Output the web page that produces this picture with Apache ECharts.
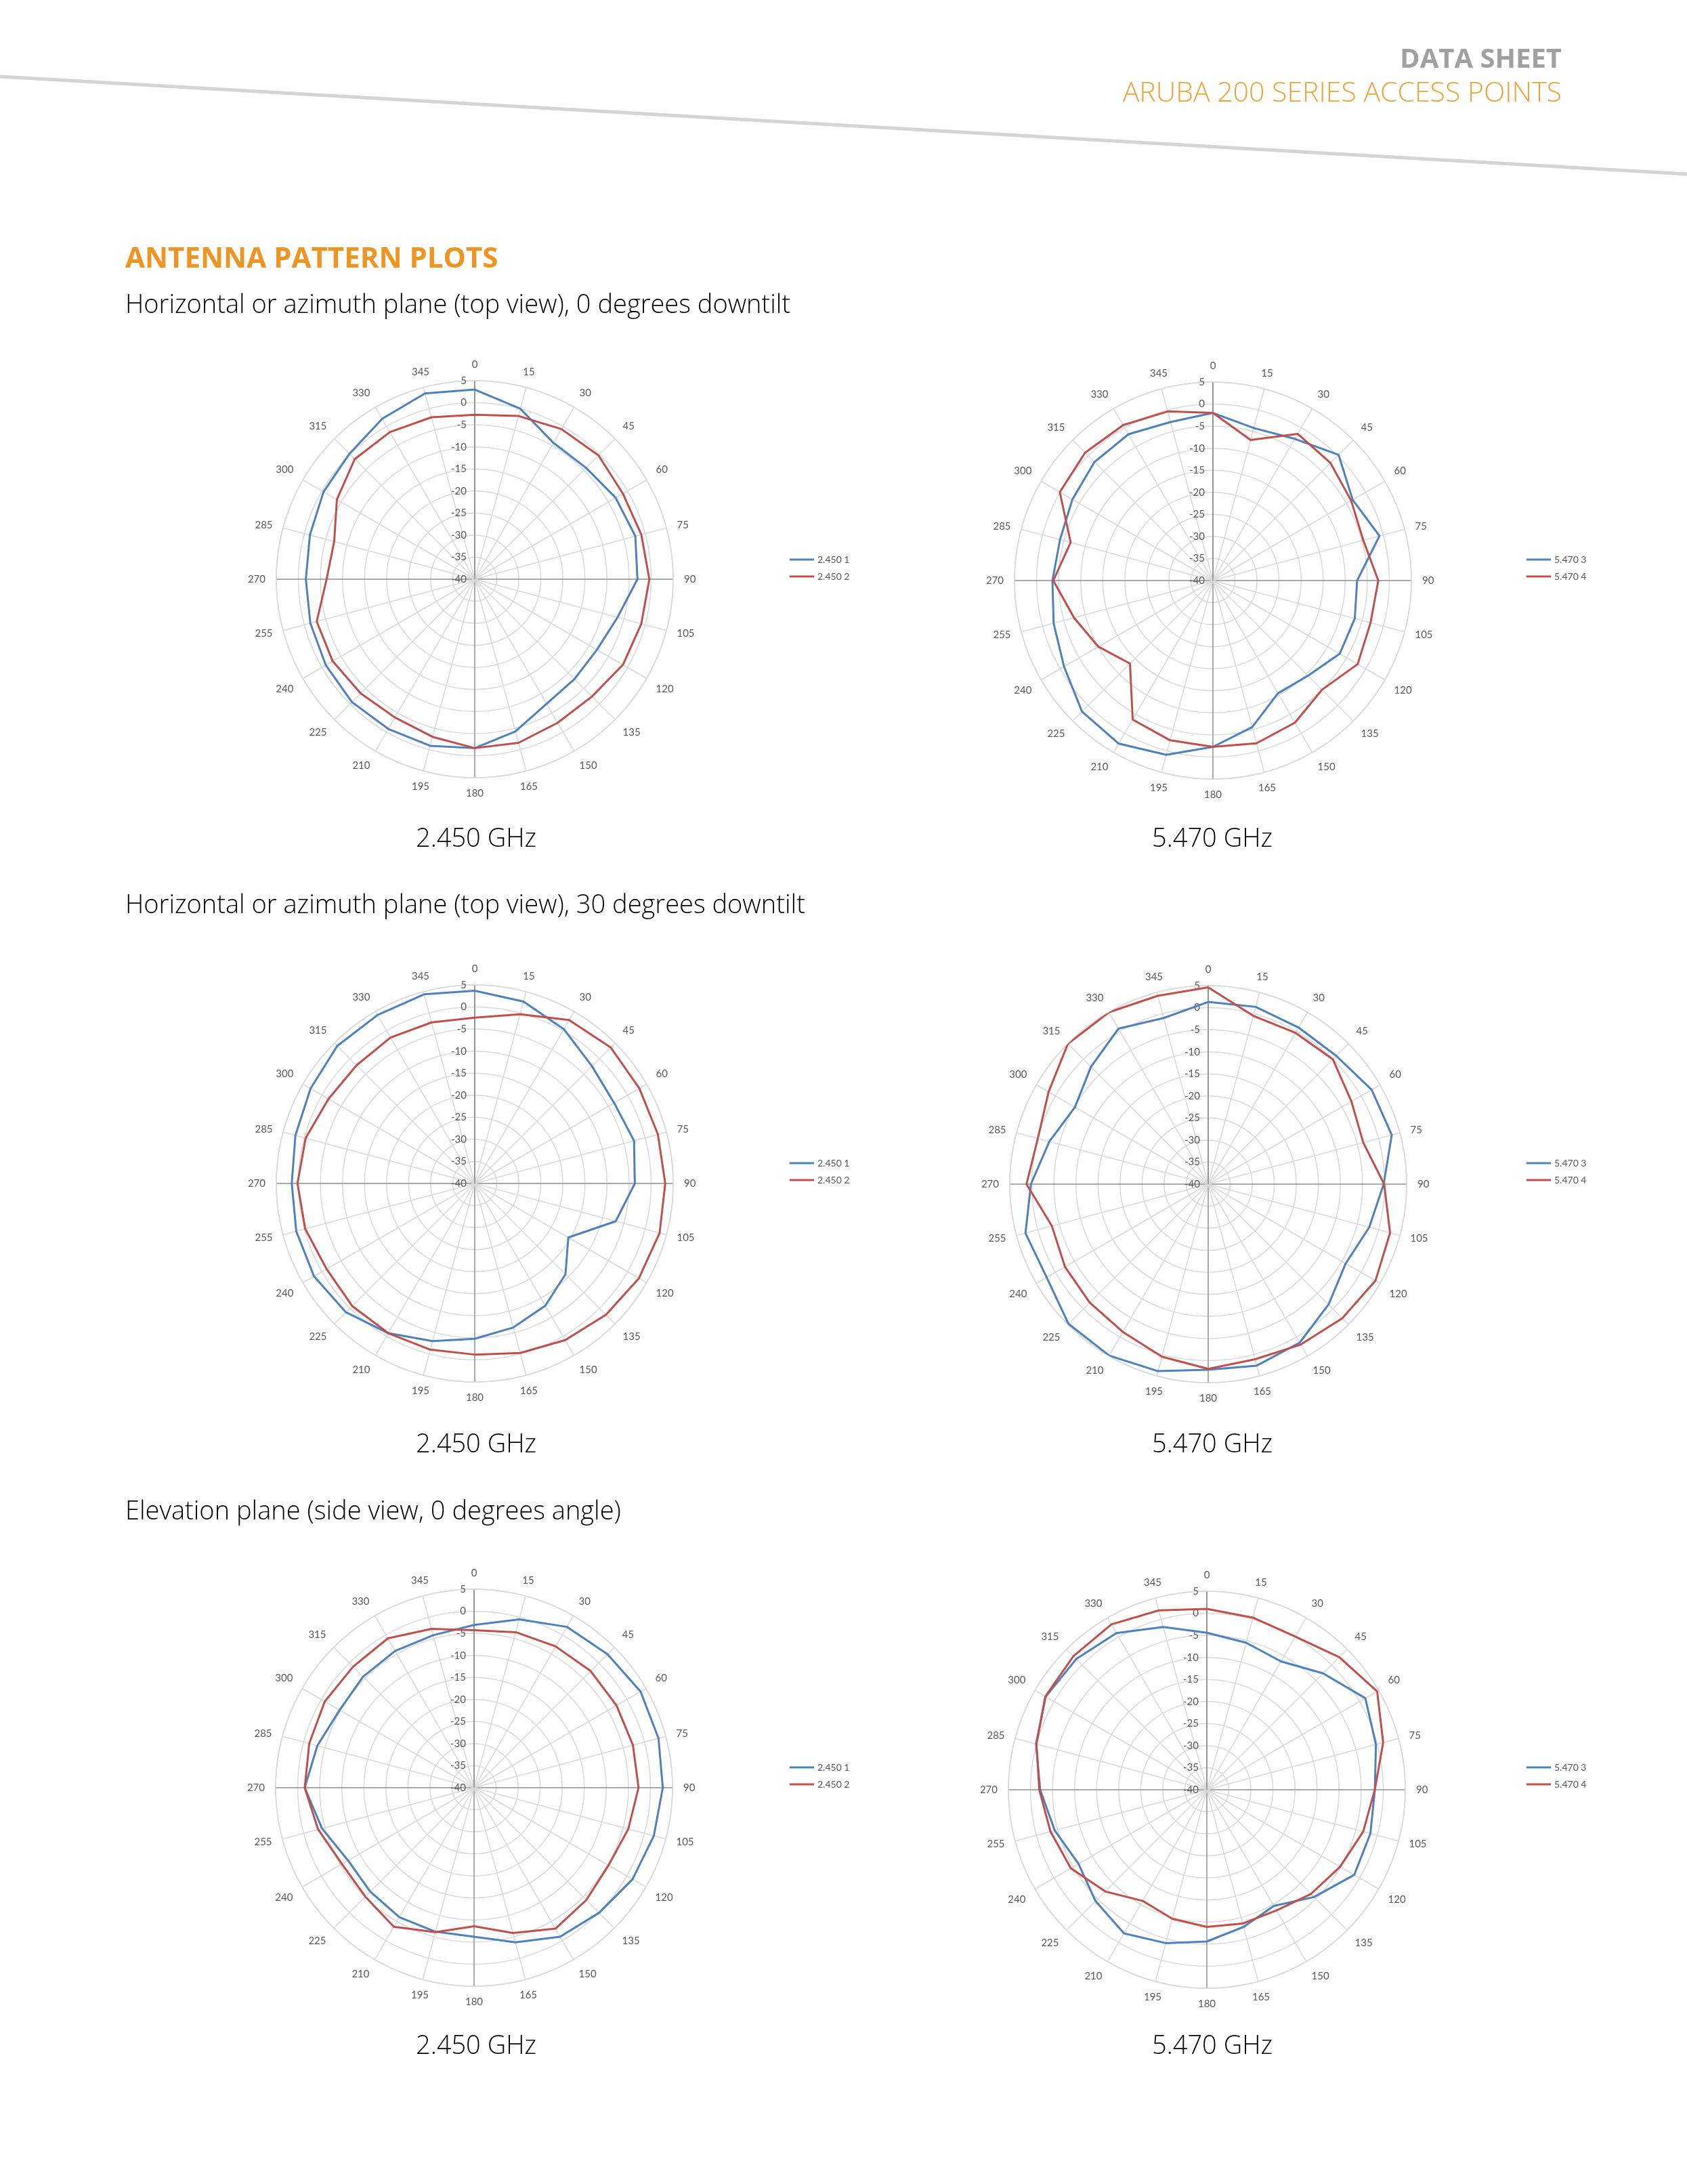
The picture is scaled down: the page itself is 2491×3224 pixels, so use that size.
<!DOCTYPE html>
<html>
<head>
<meta charset="utf-8">
<script src="https://cdn.jsdelivr.net/npm/echarts@6/dist/echarts.min.js"></script>
<style>
html,body{margin:0;padding:0;background:#fff;}
#c{width:2491px;height:3224px;}
</style>
</head>
<body>
<div id="c"></div>
<script>
// ---- DATA ----
const angles = [0,15,30,45,60,75,90,105,120,135,150,165,180,195,210,225,240,255,270,285,300,315,330,345];
const radiusTicks = [-40,-35,-30,-25,-20,-15,-10,-5,0,5];

// Horizontal / azimuth plane, 0 degrees downtilt
const az0_2450_1 = [3.0,0.0,-4.3,-4.3,-3.1,-2.3,-3.1,-6.5,-8.0,-8.0,-7.4,-4.3,-1.7,-0.9,-0.8,-0.6,-1.0,-1.4,-1.7,-1.3,-0.4,0.2,2.0,3.6];
const az0_2450_2 = [-2.7,-1.7,-0.7,-0.3,-1.2,-0.9,-0.4,-0.9,-1.2,-2.4,-2.4,-1.6,-1.7,-3.0,-3.8,-3.4,-2.8,-2.9,-6.4,-7.0,-3.9,-1.5,-1.5,-2.0];
const az0_5470_3 = [-2.0,-4.2,-2.9,0.3,-3.4,-0.9,-7.3,-6.7,-6.8,-9.5,-10.5,-5.6,-2.3,0.9,2.7,2.0,-1.0,-2.6,-3.6,-4.1,-3.2,-2.0,-1.7,-2.8];
const az0_5470_4 = [-2.0,-7.0,-1.6,-2.3,-3.8,-4.7,-2.5,-3.0,-2.1,-5.0,-2.8,-1.8,-2.3,-2.5,-3.6,-13.4,-10.0,-7.4,-3.8,-6.6,0.1,1.0,0.7,-0.3];
// Horizontal / azimuth plane, 30 degrees downtilt
const az30_2450_1 = [3.7,2.7,0.4,-2.4,-3.5,-2.6,-3.7,-6.9,-15.5,-10.9,-8.0,-6.2,-4.8,-3.0,-0.8,1.3,2.1,1.9,1.5,2.1,3.0,4.1,4.1,4.4];
const az30_2450_2 = [-2.4,-0.3,2.8,3.6,3.1,3.0,3.2,3.4,3.0,2.1,1.0,-0.2,-1.2,-1.0,-0.8,-0.7,-1.2,-0.2,0.2,-0.3,-1.7,-2.1,-1.8,-2.2];
const az30_5470_3 = [1.3,1.6,1.0,1.1,2.8,3.1,-0.2,-2.2,-4.0,-1.4,1.5,2.6,2.1,3.9,4.9,4.8,2.3,2.9,0.2,-2.7,-5.1,-2.4,0.7,-1.0];
const az30_5470_4 = [4.6,-0.5,-0.4,0.0,-2.5,-3.6,-0.1,2.7,3.8,3.0,2.0,1.1,1.9,0.5,-1.3,-2.0,-2.5,-3.3,1.2,0.0,1.8,5.0,5.0,4.2];
// Elevation plane
const el_2450_1 = [-3.1,-0.5,2.1,2.8,3.6,3.3,2.8,2.2,1.5,0.1,-1.0,-3.7,-6.2,-6.2,-6.1,-6.7,-7.0,-4.3,-1.6,-3.2,-4.8,-4.4,-4.2,-4.2];
const el_2450_2 = [-4.3,-3.5,-3.0,-2.6,-2.7,-2.7,-2.7,-3.8,-4.8,-4.0,-3.1,-5.9,-8.6,-6.1,-3.6,-5.1,-5.4,-3.4,-1.6,-1.3,-0.9,-1.2,-0.9,-2.7];
const el_5470_3 = [-4.4,-5.5,-6.4,-2.7,1.5,-0.3,-1.9,-1.6,-1.4,-5.6,-9.6,-7.8,-5.6,-4.0,-2.4,-4.3,-6.4,-4.3,-2.2,0.1,2.2,1.9,1.0,-1.8];
const el_5470_4 = [1.0,0.4,0.1,2.5,4.6,1.4,-1.9,-3.3,-5.1,-6.6,-8.4,-8.6,-8.9,-9.7,-10.9,-7.4,-4.4,-3.3,-2.0,0.0,2.3,2.8,3.3,2.1];

const names24 = ['2.450 1','2.450 2'];
const names54 = ['5.470 3','5.470 4'];
const captions = ['2.450 GHz','5.470 GHz'];
const sectionTitles = [
  'Horizontal or azimuth plane (top view), 0 degrees downtilt',
  'Horizontal or azimuth plane (top view), 30 degrees downtilt',
  'Elevation plane (side view, 0 degrees angle)'
];

// ---- LAYOUT ----
const charts = [
  {c:[701,855],  s:[az0_2450_1, az0_2450_2], n:names24, leg:[1166,819]},
  {c:[1791,857], s:[az0_5470_3, az0_5470_4], n:names54, leg:[2254,819]},
  {c:[701,1747], s:[az30_2450_1, az30_2450_2], n:names24, leg:[1166,1710]},
  {c:[1784,1748],s:[az30_5470_3, az30_5470_4], n:names54, leg:[2254,1710]},
  {c:[700,2639], s:[el_2450_1, el_2450_2], n:names24, leg:[1166,2602]},
  {c:[1782,2642],s:[el_5470_3, el_5470_4], n:names54, leg:[2254,2602]}
];
const R = 293;
const colors = ['#4F81BD','#C0504D'];
const lightGrid = '#d9d9d9';
const darkGrid = '#8f8f8f';
const labelFont = 'Lato';

function toPolar(vals){
  const d = vals.map((v,i)=>[v, angles[i]]);
  d.push([vals[0], 360]);
  return d;
}

const polar = [], angleAxis = [], radiusAxis = [], series = [], legend = [];
charts.forEach((ch, k)=>{
  polar.push({center: ch.c, radius: R});
  angleAxis.push({
    polarIndex:k, type:'value', min:0, max:360, interval:15, startAngle:90, clockwise:true,
    axisLine:{show:true, lineStyle:{color:lightGrid, width:1.5}},
    axisTick:{show:false},
    axisLabel:{show:true, margin:16, color:'#595959', fontSize:15, fontFamily:labelFont,
      formatter:(v)=> v===360 ? '' : String(v)},
    splitLine:{show:true, lineStyle:{color:[darkGrid,lightGrid,lightGrid,lightGrid,lightGrid,lightGrid], width:1.5}}
  });
  radiusAxis.push({
    polarIndex:k, type:'value', min:-40, max:5, interval:5,
    axisLine:{show:true, lineStyle:{color:darkGrid, width:1.5}},
    axisTick:{show:false},
    axisLabel:{show:true, color:'#595959', fontSize:15, fontFamily:labelFont, margin:12},
    splitLine:{show:true, lineStyle:{color:lightGrid, width:1.5}}
  });
  ch.s.forEach((vals, j)=>{
    series.push({
      type:'line', name: ch.n[j], coordinateSystem:'polar', polarIndex:k,
      data: toPolar(vals), symbol:'none', smooth:false,
      lineStyle:{color:colors[j], width:3}, itemStyle:{color:colors[j]},
      animation:false, z:5
    });
  });
  legend.push({
    data: ch.n.map(n=>({name:n, icon:'path://M0,0H36V3H0Z'})),
    left: ch.leg[0], top: ch.leg[1], orient:'vertical',
    itemWidth:36, itemHeight:3, itemGap:11, padding:0,
    textStyle:{color:'#595959', fontSize:14, fontFamily:labelFont},
    selectedMode:false
  });
});

const graphic = [
  {type:'line', shape:{x1:0,y1:113,x2:2491,y2:257}, style:{stroke:'#d4d4d4', lineWidth:5}, z:1},
  {type:'text', x:2306, y:89, style:{text:'DATA SHEET', fill:'#a0a0a0', font:'bold 40px "Open Sans"', textAlign:'right', textVerticalAlign:'middle'}},
  {type:'text', x:2306, y:138, style:{text:'ARUBA 200 SERIES ACCESS POINTS', fill:'#E9A43C', font:'300 41px "Open Sans"', textAlign:'right', textVerticalAlign:'middle'}},
  {type:'text', x:185, y:383, style:{text:'ANTENNA PATTERN PLOTS', fill:'#EE9423', font:'bold 42px "Open Sans"', textAlign:'left', textVerticalAlign:'middle'}}
];
const secY = [451, 1337, 2232];
sectionTitles.forEach((t,i)=>{
  graphic.push({type:'text', x:185, y:secY[i], style:{text:t, fill:'#000000', font:'300 38px "Open Sans"', textAlign:'left', textVerticalAlign:'middle'}});
});
const capY = [1239, 2133, 3021];
const capX = [703, 1790];
capY.forEach(y=>{
  capX.forEach((x,j)=>{
    graphic.push({type:'text', x:x, y:y, style:{text:captions[j], fill:'#000000', font:'300 38px "Open Sans"', textAlign:'center', textVerticalAlign:'middle'}});
  });
});

const chart = echarts.init(document.getElementById('c'));
chart.setOption({
  backgroundColor:'#ffffff',
  animation:false,
  polar, angleAxis, radiusAxis, series, legend, graphic
});
</script>
</body>
</html>
